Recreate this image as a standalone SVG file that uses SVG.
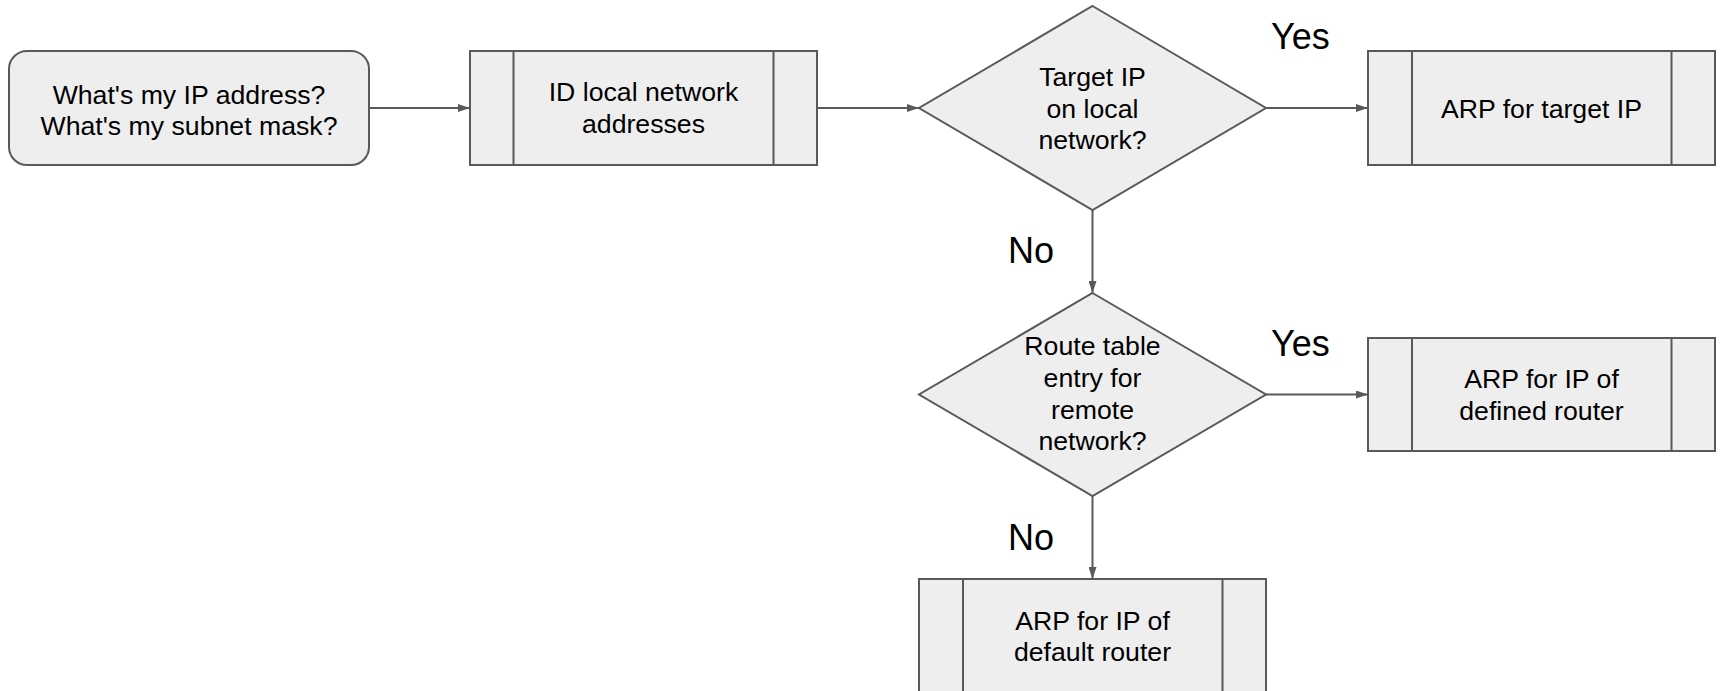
<svg xmlns="http://www.w3.org/2000/svg" width="1720" height="691" viewBox="0 0 1720 691">
  <defs>
    <marker id="arrow" viewBox="0 0 12 8" refX="12" refY="4" markerWidth="12" markerHeight="8" markerUnits="userSpaceOnUse" orient="auto">
      <path d="M0,0 L12,4 L0,8 Z" fill="#595959"/>
    </marker>
  </defs>
  <style>
    .shape { fill: #eeeeee; stroke: #595959; stroke-width: 2; }
    .bar { stroke: #595959; stroke-width: 2; fill: none; }
    .edge { stroke: #595959; stroke-width: 2; fill: none; marker-end: url(#arrow); }
    .txt { font-family: "Liberation Sans", Arial, sans-serif; font-size: 26.67px; fill: #000000; text-anchor: middle; }
    .lbl { font-family: "Liberation Sans", Arial, sans-serif; font-size: 36px; fill: #000000; }
  </style>

  <rect width="1720" height="691" fill="#ffffff"/>

  <!-- connectors -->
  <g id="connectors">
    <line class="edge" x1="369" y1="108" x2="470" y2="108"/>
    <line class="edge" x1="817" y1="108" x2="919" y2="108"/>
    <line class="edge" x1="1266" y1="108" x2="1368" y2="108"/>
    <line class="edge" x1="1092.5" y1="210" x2="1092.5" y2="293"/>
    <line class="edge" x1="1266" y1="394.5" x2="1368" y2="394.5"/>
    <line class="edge" x1="1092.5" y1="496" x2="1092.5" y2="579"/>
    <text class="lbl" x="1271" y="49">Yes</text>
    <text class="lbl" x="1008" y="263">No</text>
    <text class="lbl" x="1271" y="356">Yes</text>
    <text class="lbl" x="1008" y="550">No</text>
  </g>

  <!-- start: rounded terminal -->
  <g id="node-start">
    <rect class="shape" x="9" y="51" width="360" height="114" rx="18" ry="18"/>
    <text class="txt" x="189" y="103.5">What's my IP address?</text>
    <text class="txt" x="189" y="134.5">What's my subnet mask?</text>
  </g>

  <!-- predefined process: ID local network addresses -->
  <g id="node-id-local">
    <rect class="shape" x="470" y="51" width="347" height="114"/>
    <line class="bar" x1="513.5" y1="51" x2="513.5" y2="165"/>
    <line class="bar" x1="773.5" y1="51" x2="773.5" y2="165"/>
    <text class="txt" x="643.5" y="101">ID local network</text>
    <text class="txt" x="643.5" y="132.5">addresses</text>
  </g>

  <!-- decision: target on local network -->
  <g id="node-target-local">
    <polygon class="shape" points="1092.5,6 1266,108 1092.5,210 919,108"/>
    <text class="txt" x="1092.5" y="86">Target IP</text>
    <text class="txt" x="1092.5" y="117.7">on local</text>
    <text class="txt" x="1092.5" y="149.4">network?</text>
  </g>

  <!-- ARP for target IP -->
  <g id="node-arp-target">
    <rect class="shape" x="1368" y="51" width="347" height="114"/>
    <line class="bar" x1="1412" y1="51" x2="1412" y2="165"/>
    <line class="bar" x1="1671.5" y1="51" x2="1671.5" y2="165"/>
    <text class="txt" x="1541.5" y="118">ARP for target IP</text>
  </g>

  <!-- decision: route table entry -->
  <g id="node-route-entry">
    <polygon class="shape" points="1092.5,293 1266,394.5 1092.5,496 919,394.5"/>
    <text class="txt" x="1092.5" y="355">Route table</text>
    <text class="txt" x="1092.5" y="386.8">entry for</text>
    <text class="txt" x="1092.5" y="418.6">remote</text>
    <text class="txt" x="1092.5" y="450.4">network?</text>
  </g>

  <!-- ARP for defined router -->
  <g id="node-arp-defined">
    <rect class="shape" x="1368" y="338" width="347" height="113"/>
    <line class="bar" x1="1412" y1="338" x2="1412" y2="451"/>
    <line class="bar" x1="1671.5" y1="338" x2="1671.5" y2="451"/>
    <text class="txt" x="1541.5" y="388">ARP for IP of</text>
    <text class="txt" x="1541.5" y="419.5">defined router</text>
  </g>

  <!-- ARP for default router -->
  <g id="node-arp-default">
    <rect class="shape" x="919" y="579" width="347" height="114"/>
    <line class="bar" x1="963" y1="579" x2="963" y2="693"/>
    <line class="bar" x1="1222.5" y1="579" x2="1222.5" y2="693"/>
    <text class="txt" x="1092.5" y="629.5">ARP for IP of</text>
    <text class="txt" x="1092.5" y="661">default router</text>
  </g>
</svg>
